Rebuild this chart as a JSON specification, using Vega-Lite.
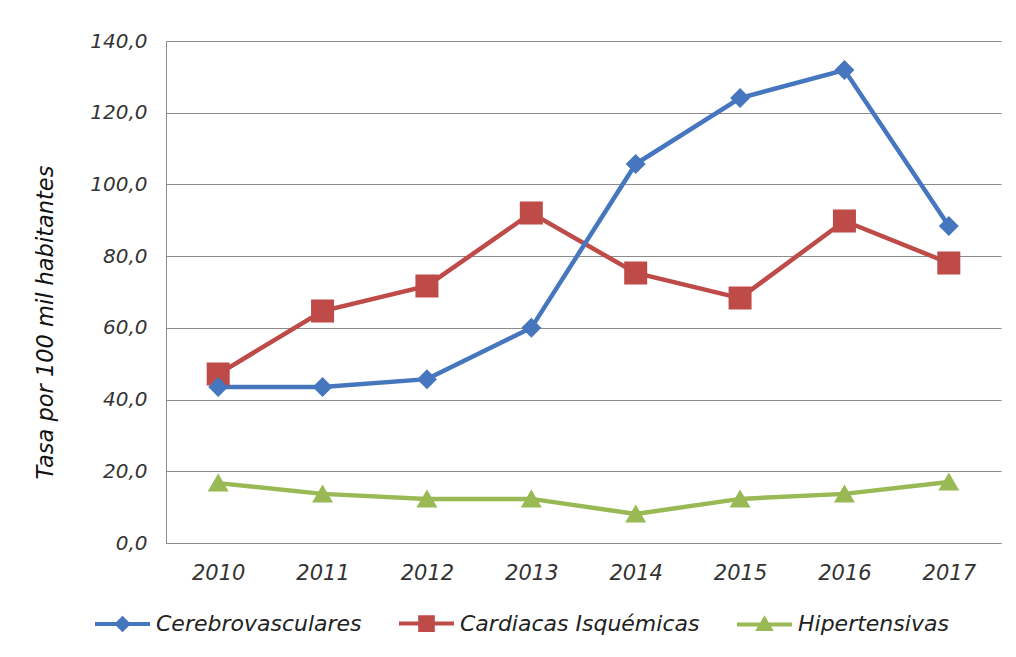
{
  "$schema": "https://vega.github.io/schema/vega-lite/v6.json",
  "width": 835,
  "height": 502,
  "autosize": {"type": "none"},
  "padding": {"left": 166, "top": 41, "right": 15, "bottom": 114},
  "background": "white",
  "config": {
    "view": {"stroke": null},
    "font": "DejaVu Sans",
    "axis": {
      "labelFont": "DejaVu Sans",
      "labelFontStyle": "oblique",
      "labelFontSize": 20,
      "labelColor": "#333333",
      "domainColor": "#8c8c8c",
      "gridColor": "#8c8c8c",
      "ticks": false
    }
  },
  "data": {
    "values": [
      {"anio": "2010", "serie": "Cardiacas Isquémicas", "tasa": 47.1},
      {"anio": "2011", "serie": "Cardiacas Isquémicas", "tasa": 64.7},
      {"anio": "2012", "serie": "Cardiacas Isquémicas", "tasa": 71.7},
      {"anio": "2013", "serie": "Cardiacas Isquémicas", "tasa": 92.0},
      {"anio": "2014", "serie": "Cardiacas Isquémicas", "tasa": 75.3},
      {"anio": "2015", "serie": "Cardiacas Isquémicas", "tasa": 68.3},
      {"anio": "2016", "serie": "Cardiacas Isquémicas", "tasa": 89.8},
      {"anio": "2017", "serie": "Cardiacas Isquémicas", "tasa": 78.1},
      {"anio": "2010", "serie": "Cerebrovasculares", "tasa": 43.5},
      {"anio": "2011", "serie": "Cerebrovasculares", "tasa": 43.5},
      {"anio": "2012", "serie": "Cerebrovasculares", "tasa": 45.7},
      {"anio": "2013", "serie": "Cerebrovasculares", "tasa": 60.0},
      {"anio": "2014", "serie": "Cerebrovasculares", "tasa": 105.7},
      {"anio": "2015", "serie": "Cerebrovasculares", "tasa": 124.1},
      {"anio": "2016", "serie": "Cerebrovasculares", "tasa": 131.9},
      {"anio": "2017", "serie": "Cerebrovasculares", "tasa": 88.4},
      {"anio": "2010", "serie": "Hipertensivas", "tasa": 16.7},
      {"anio": "2011", "serie": "Hipertensivas", "tasa": 13.7},
      {"anio": "2012", "serie": "Hipertensivas", "tasa": 12.3},
      {"anio": "2013", "serie": "Hipertensivas", "tasa": 12.3},
      {"anio": "2014", "serie": "Hipertensivas", "tasa": 8.1},
      {"anio": "2015", "serie": "Hipertensivas", "tasa": 12.3},
      {"anio": "2016", "serie": "Hipertensivas", "tasa": 13.7},
      {"anio": "2017", "serie": "Hipertensivas", "tasa": 17.0}
    ]
  },
  "encoding": {
    "x": {
      "field": "anio",
      "type": "ordinal",
      "scale": {"type": "point", "padding": 0.5},
      "axis": {
        "title": null,
        "labelAngle": 0,
        "labelPadding": 19,
        "labelFontSize": 21,
        "grid": false
      }
    },
    "y": {
      "field": "tasa",
      "type": "quantitative",
      "scale": {"domain": [0, 140], "nice": false},
      "axis": {
        "values": [0, 20, 40, 60, 80, 100, 120, 140],
        "labelExpr": "replace(format(datum.value, '.1f'), '.', ',')",
        "labelPadding": 19,
        "grid": true,
        "title": "Tasa  por 100 mil habitantes",
        "titleFont": "DejaVu Sans",
        "titleFontStyle": "oblique",
        "titleFontWeight": "normal",
        "titleFontSize": 22.5,
        "titleColor": "#111111",
        "titleX": -121,
        "titleY": 281,
        "titleAlign": "center",
        "titleBaseline": "middle",
        "titleAngle": -90
      }
    },
    "color": {
      "field": "serie",
      "type": "nominal",
      "scale": {
        "domain": ["Cerebrovasculares", "Cardiacas Isquémicas", "Hipertensivas"],
        "range": ["#4677BE", "#BE4B48", "#98B954"]
      },
      "legend": {
        "title": null,
        "orient": "none",
        "direction": "horizontal",
        "legendX": -73,
        "legendY": 553,
        "symbolSize": 3025,
        "symbolStrokeWidth": 4,
        "symbolOpacity": 1,
        "labelOffset": 4,
        "columnPadding": 29,
        "labelFont": "DejaVu Sans",
        "labelFontStyle": "oblique",
        "labelFontSize": 22,
        "labelColor": "#222222",
        "labelLimit": 400
      }
    }
  },
  "layer": [
    {
      "mark": {"type": "line", "strokeWidth": 4.5},
      "encoding": {}
    },
    {
      "mark": {"type": "point", "filled": true, "opacity": 1, "size": 10000},
      "encoding": {
        "shape": {
          "field": "serie",
          "type": "nominal",
          "scale": {
            "domain": ["Cerebrovasculares", "Cardiacas Isquémicas", "Hipertensivas"],
            "range": [
              "M-1,0H1M0,-0.2L0.2,0L0,0.2L-0.2,0Z",
              "M-1,0H1M-0.23,-0.23H0.23V0.23H-0.23Z",
              "M-1,0H1M0,-0.19L0.21,0.17H-0.21Z"
            ]
          },
          "legend": {
            "title": null,
            "orient": "none",
            "direction": "horizontal",
            "legendX": -73,
            "legendY": 553,
            "symbolSize": 3025,
            "symbolStrokeWidth": 4,
            "symbolOpacity": 1,
            "labelOffset": 4,
            "columnPadding": 29,
            "labelFont": "DejaVu Sans",
            "labelFontStyle": "oblique",
            "labelFontSize": 22,
            "labelColor": "#222222",
            "labelLimit": 400
          }
        }
      }
    }
  ]
}
